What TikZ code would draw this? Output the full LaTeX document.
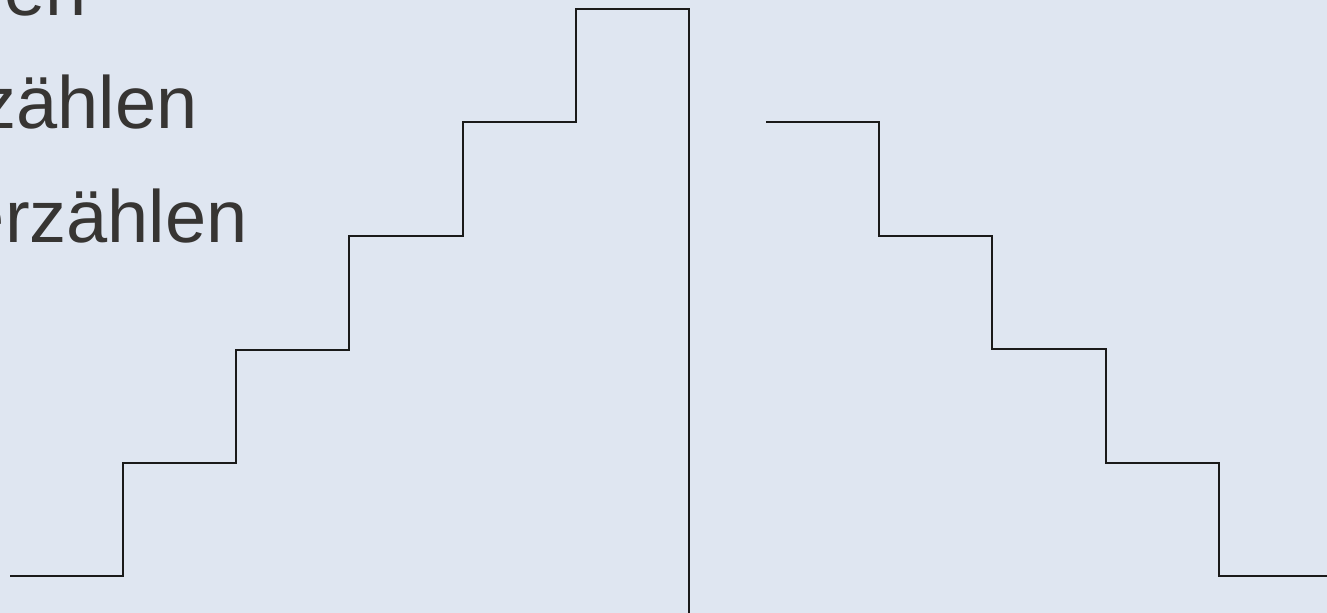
\documentclass[tikz,border=0pt]{standalone}
\usepackage{fontspec}
\setmainfont{Liberation Sans}
\definecolor{bgc}{HTML}{DFE6F1}
\definecolor{txt}{HTML}{373533}
\definecolor{stair}{HTML}{1A1A1A}
\begin{document}
\begin{tikzpicture}[x=0.75pt,y=-0.75pt,
  lbl/.style={anchor=base east,inner sep=0pt,text=txt,font=\fontsize{55.5pt}{60pt}\selectfont},
  stairline/.style={draw=stair,line width=0.8pt}]
\useasboundingbox (0,0) rectangle (1327,613);
\fill[bgc] (0,0) rectangle (1327,613);
\clip (0,0) rectangle (1327,613);
\node[lbl] (t1) at (87,16) {en};
\node[lbl] (t2) at (198,129) {zählen};
\node[lbl] (t3) at (248,242) {erzählen};
\draw[stairline] (10,576) -| (123,463) -| (236,350) -| (349,236) -| (463,122) -| (576,9) -| (689,613);
\draw[stairline] (766,122) -| (879,236) -| (992,349) -| (1106,463) -| (1219,576) -- (1327,576);
\end{tikzpicture}
\end{document}
